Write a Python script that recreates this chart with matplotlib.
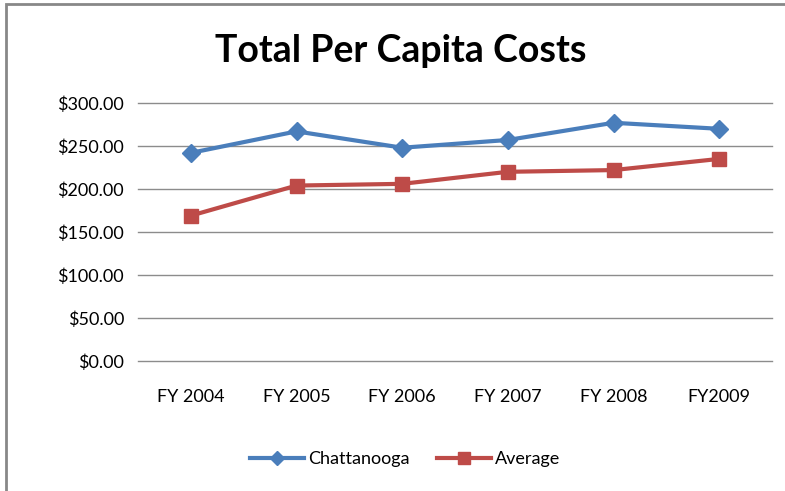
import numpy as np
import matplotlib.pyplot as plt
from matplotlib.patches import Rectangle
from matplotlib.ticker import FuncFormatter

years = ["FY 2004", "FY 2005", "FY 2006", "FY 2007", "FY 2008", "FY2009"]
chattanooga = [242, 267, 248, 257, 277, 270]
average = [169, 204, 206, 220, 222, 235]

plt.rcParams['font.family'] = ['Lato', 'DejaVu Sans']

fig = plt.figure(figsize=(7.85, 4.91), dpi=100)
ax = fig.add_axes([138/785, 1 - 361/491, (772 - 138)/785, (361 - 103)/491])

# outer chart border (cut off at right/bottom like the screenshot)
fig.patches.append(Rectangle((6/785, -0.1), 1.2, 1 - 4/491 + 0.1,
                             transform=fig.transFigure, fill=False,
                             edgecolor='#888888', linewidth=2))

x = np.arange(len(years))
ax.plot(x, chattanooga, color='#4a7ebb', lw=3, marker='D', ms=9, label='Chattanooga')
ax.plot(x, average, color='#be4b48', lw=3, marker='s', ms=10, label='Average')

ax.set_xlim(-0.5, len(years) - 0.5)
ax.set_ylim(0, 300)
ax.set_yticks(np.arange(0, 301, 50))
ax.yaxis.set_major_formatter(FuncFormatter(lambda v, p: f"${v:.2f}"))
ax.set_xticks(x)
ax.set_xticklabels(years)
ax.tick_params(length=0, labelsize=13, colors='black')
ax.tick_params(axis='y', pad=10)
ax.tick_params(axis='x', pad=20)
ax.grid(axis='y', color='#8c8c8c', lw=1)
for gl in ax.get_ygridlines():
    gl.set_clip_on(False)
ax.set_axisbelow(True)
for s in ax.spines.values():
    s.set_visible(False)

fig.text(401/785, 1 - 51/491, "Total Per Capita Costs", ha='center', va='center',
         fontsize=27, fontweight='bold')

leg = fig.legend(loc='center', bbox_to_anchor=(405/785, 1 - 459/491), ncol=2,
                 frameon=False, fontsize=13, handlelength=3, columnspacing=1.5,
                 handletextpad=0.2, markerscale=0.8)

fig.savefig("out.png", dpi=100)
